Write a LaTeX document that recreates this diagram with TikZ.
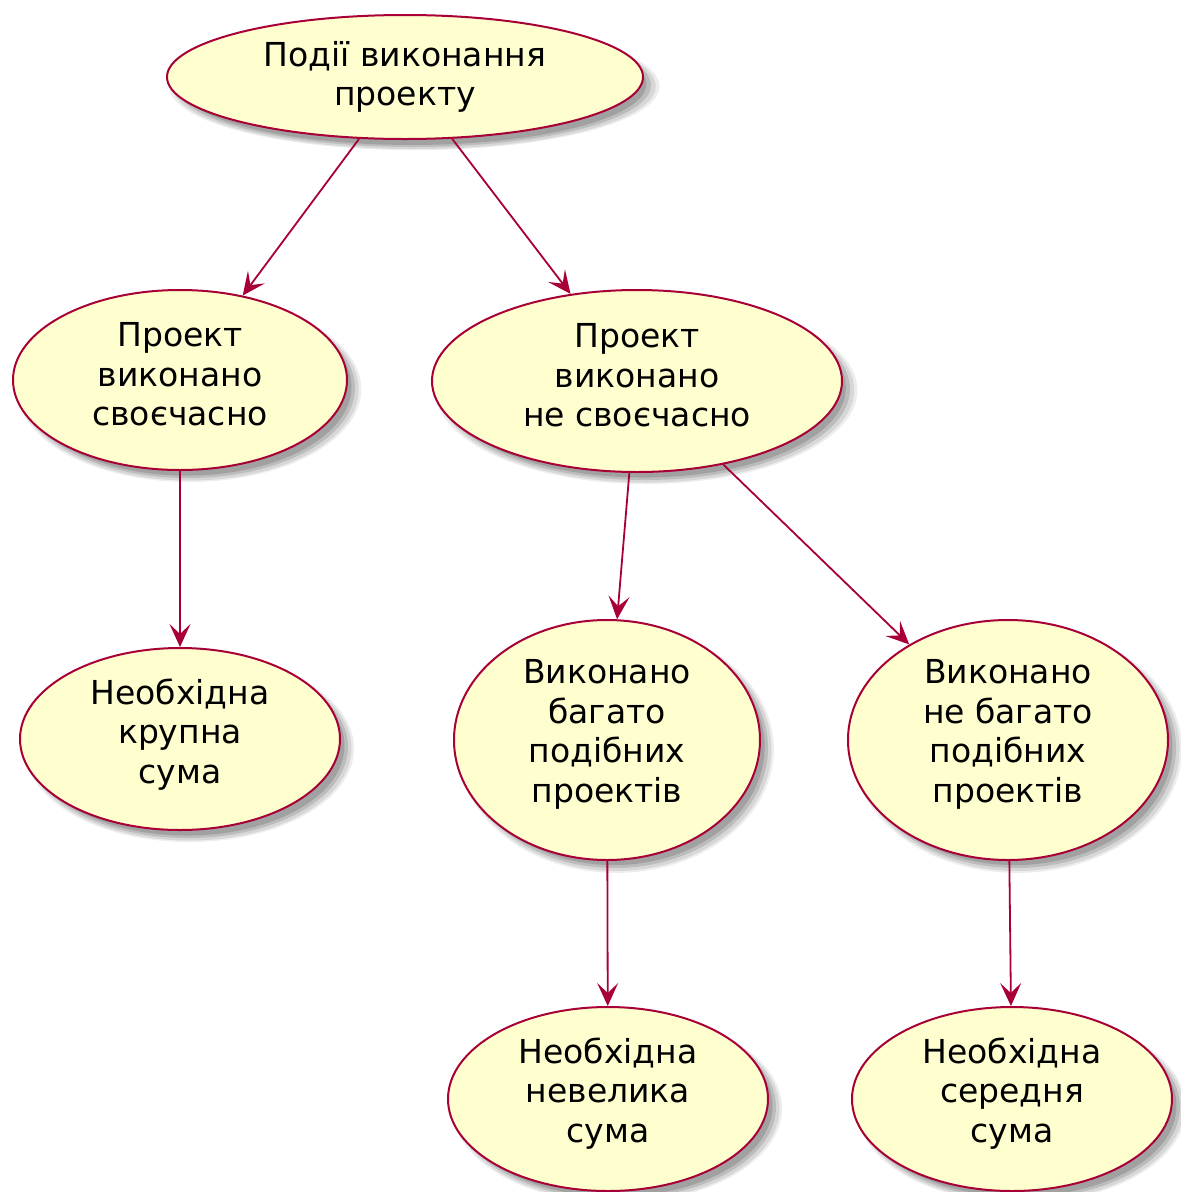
\documentclass[tikz,border=0pt]{standalone}
\usepackage{fontspec}
\setmainfont{DejaVu Sans}
\usetikzlibrary{shapes.geometric,arrows.meta,shadows}
\definecolor{ucfill}{HTML}{FEFECE}
\definecolor{ucline}{HTML}{A80036}
% extra depth on a last text line, to lift the lines inside an ellipse
\newcommand\lowstrut[1]{\rule[-#1]{0pt}{0pt}}
\tikzset{
  softshadow/.style={
    general shadow={fill=black, opacity=0.07, shadow xshift=9pt, shadow yshift=-9pt, shadow scale=1.03},
    general shadow={fill=black, opacity=0.09, shadow xshift=9pt, shadow yshift=-9pt, shadow scale=1.015},
    general shadow={fill=black, opacity=0.12, shadow xshift=8pt, shadow yshift=-8pt},
    general shadow={fill=black, opacity=0.14, shadow xshift=7pt, shadow yshift=-7pt, shadow scale=0.985},
  },
  usecase/.style={ellipse, draw=ucline, line width=2pt, fill=ucfill, softshadow,
    inner sep=0pt, align=center, text=black,
    font=\fontsize{33}{39.5}\selectfont},
  flow/.style={draw=ucline, line width=1.8pt,
    -{Stealth[length=23pt,width=21pt,inset=10pt]}},
}
\begin{document}
\begin{tikzpicture}[x=1pt,y=-1pt]
\useasboundingbox (0,0) rectangle (1181,1192);
\fill[white] (0,0) rectangle (1181,1192);

\node[usecase, minimum width=476pt, minimum height=124pt] (events) at (405,77)
  {Події виконання\\проекту};
\node[usecase, minimum width=334pt, minimum height=180pt] (ontime) at (180,380)
  {Проект\\ виконано\\своєчасно\lowstrut{11.5pt}};
\node[usecase, minimum width=410pt, minimum height=182pt] (late) at (637,381)
  {Проект\\ виконано\\не своєчасно\lowstrut{11.5pt}};
\node[usecase, minimum width=320pt, minimum height=182pt] (large) at (180,739)
  {Необхідна\\ крупна\\ сума\lowstrut{16pt}};
\node[usecase, minimum width=306pt, minimum height=240pt] (many) at (607,740)
  {Виконано\\ багато\\ подібних\\ проектів\lowstrut{17.8pt}};
\node[usecase, minimum width=320pt, minimum height=240pt] (few) at (1008,740)
  {Виконано\\ не багато\\ подібних\\ проектів\lowstrut{17.8pt}};
\node[usecase, minimum width=320pt, minimum height=184pt] (small) at (608,1099)
  {Необхідна\\ невелика\\ сума\lowstrut{17.8pt}};
\node[usecase, minimum width=320pt, minimum height=184pt] (medium) at (1012,1099)
  {Необхідна\\ середня\\ сума\lowstrut{17.8pt}};

\draw[flow] (events) -- (ontime);
\draw[flow] (events) -- (late);
\draw[flow] (ontime) -- (large);
\draw[flow] (late) -- (many);
\draw[flow] (late) -- (few);
\draw[flow] (many) -- (small);
\draw[flow] (few) -- (medium);
\end{tikzpicture}
\end{document}
